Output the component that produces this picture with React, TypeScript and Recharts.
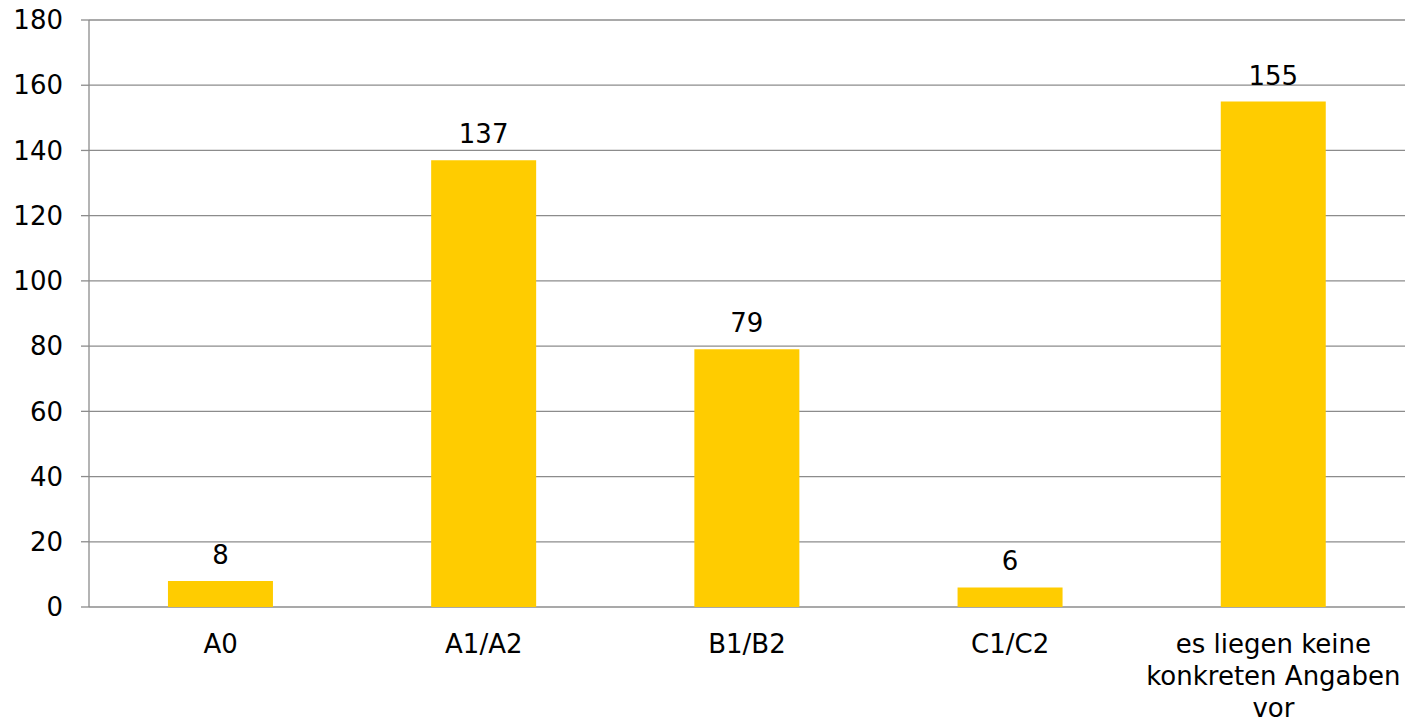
import { BarChart, Bar, XAxis, YAxis, CartesianGrid, LabelList } from 'recharts';

const categories = ['A0', 'A1/A2', 'B1/B2', 'C1/C2', 'es liegen keine konkreten Angaben vor'];
const values = [8, 137, 79, 6, 155];
const yTicks = [0, 20, 40, 60, 80, 100, 120, 140, 160, 180];
const boundaries = [0, 1, 2, 3, 4, 5];

const labelLines: Record<string, string[]> = {
    'es liegen keine konkreten Angaben vor': ['es liegen keine', 'konkreten Angaben', 'vor'],
};

const data = categories.map((name, i) => ({ name, value: values[i] }));

const FONT = '"DejaVu Sans", Verdana, sans-serif';

const CategoryTick = (props: any) => {
    const { x, y, payload } = props;
    const lines = labelLines[payload.value] || [payload.value];
    return (
        <text x={x} y={y} textAnchor="middle" fill="#000" fontSize={26} fontFamily={FONT}>
            {lines.map((l: string, i: number) => (
                <tspan key={i} x={x} dy={i === 0 ? 38 : 32}>{l}</tspan>
            ))}
        </text>
    );
};

const ValueLabel = (props: any) => {
    const { x, y, width, value } = props;
    return (
        <text x={x + width / 2} y={y - 17} textAnchor="middle" fill="#000" fontSize={26} fontFamily={FONT}>
            {value}
        </text>
    );
};

export default function App() {
    return (
        <div style={{ position: 'absolute', left: 0, top: 0, background: '#fff' }}>
            <BarChart
                width={1407}
                height={719}
                data={data}
                margin={{ top: 20, right: 2, bottom: 0, left: 0 }}
                barCategoryGap="30%"
            >
                <CartesianGrid vertical={false} stroke="#8c8c8c" strokeWidth={1.3} />
                <XAxis
                    dataKey="name"
                    xAxisId="cat"
                    axisLine={false}
                    tickLine={false}
                    tick={<CategoryTick />}
                    height={112}
                    interval={0}
                />
                <XAxis
                    xAxisId="edge"
                    type="number"
                    domain={[0, 5]}
                    ticks={boundaries}
                    axisLine={{ stroke: '#8c8c8c', strokeWidth: 1.3 }}
                    tickLine={{ stroke: '#8c8c8c', strokeWidth: 1.3 }}
                    tickSize={8}
                    tick={false}
                    height={0}
                />
                <YAxis
                    domain={[0, 180]}
                    ticks={yTicks}
                    width={89}
                    axisLine={{ stroke: '#8c8c8c', strokeWidth: 1.3 }}
                    tickLine={{ stroke: '#8c8c8c', strokeWidth: 1.3 }}
                    tickSize={8}
                    tickMargin={18}
                    tick={{ fill: '#000', fontSize: 26, fontFamily: FONT }}
                />
                <Bar dataKey="value" xAxisId="cat" fill="#ffcc00" isAnimationActive={false}>
                    <LabelList dataKey="value" content={<ValueLabel />} />
                </Bar>
            </BarChart>
        </div>
    );
}
